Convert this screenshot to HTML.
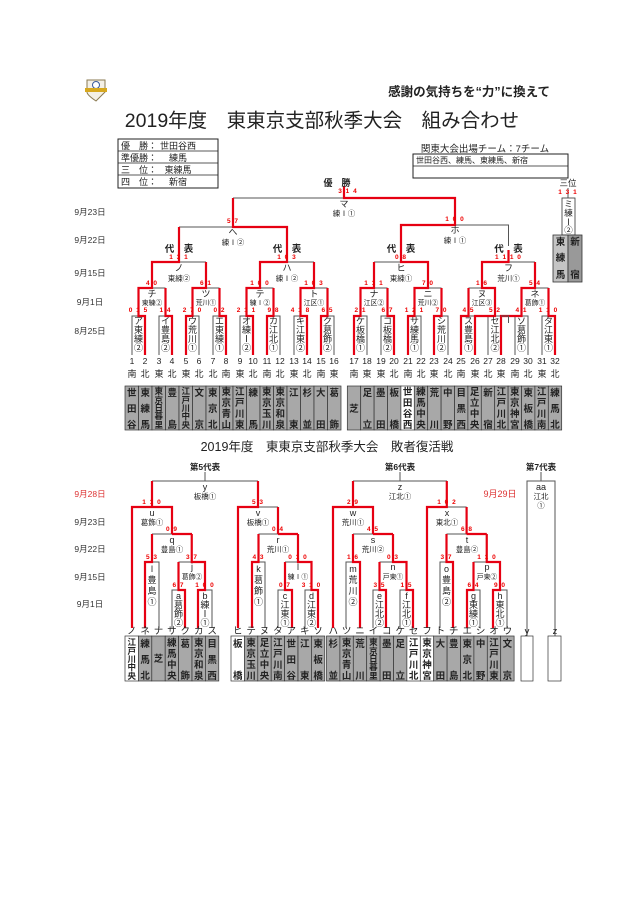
<!DOCTYPE html>
<html><head><meta charset="utf-8">
<style>
html,body{margin:0;padding:0;background:#fff}
svg{display:block}
text{font-family:"Liberation Sans","Noto Sans CJK JP",sans-serif;fill:#222}
.d{font-size:8.5px;text-anchor:middle;fill:#333}
.dr{font-size:8.5px;text-anchor:middle;fill:#d33}
.s{font-size:6.5px;font-weight:bold;fill:#e00;text-anchor:middle;letter-spacing:1px}
.n{font-size:9px;text-anchor:middle}
.m{font-size:7.5px;text-anchor:middle}
.b{font-size:9px;text-anchor:middle}
.c{font-size:9.5px;text-anchor:middle;font-weight:bold;fill:#111}
.g{fill:none;stroke:#555;stroke-width:1}
.r{fill:none;stroke:#e60012;stroke-width:2.2}
.cell{fill:#a8a8a8;stroke:#333;stroke-width:.7}
.w{fill:#fff;stroke:#333;stroke-width:.7}
</style></head><body>
<svg width="640" height="905" viewBox="0 0 640 905" xmlns="http://www.w3.org/2000/svg">
<!-- logo -->
<path d="M87 80 L105 80 L105 92 Q96 101 96 101 Q87 95 87 92 Z" fill="#f4f0e6" stroke="#8a7a50" stroke-width="1"/>
<circle cx="96" cy="85" r="3.5" fill="#fff" stroke="#3a5a9a" stroke-width="1"/>
<rect x="85" y="88" width="22" height="4" fill="#d7a81e"/>
<text x="550" y="96" style="font-size:12.5px;font-weight:bold;text-anchor:end">感謝の気持ちを“力”に換えて</text>
<text x="322" y="127" style="font-size:19.5px;text-anchor:middle">2019年度　東東京支部秋季大会　組み合わせ</text>
<!-- result box -->
<rect x="118" y="139" width="100" height="49" fill="none" stroke="#222" stroke-width="1"/>
<line x1="118" y1="151" x2="218" y2="151" stroke="#222" stroke-width=".7"/>
<line x1="118" y1="163" x2="218" y2="163" stroke="#222" stroke-width=".7"/>
<line x1="118" y1="175" x2="218" y2="175" stroke="#222" stroke-width=".7"/>
<g style="font-size:9px">
<text x="121" y="149">優　勝：</text><text x="178" y="149" text-anchor="middle">世田谷西</text>
<text x="121" y="161">準優勝：</text><text x="178" y="161" text-anchor="middle">練馬</text>
<text x="121" y="173">三　位：</text><text x="178" y="173" text-anchor="middle">東練馬</text>
<text x="121" y="185">四　位：</text><text x="178" y="185" text-anchor="middle">新宿</text>
</g>
<text x="485" y="152" style="font-size:9.5px;text-anchor:middle">関東大会出場チーム：7チーム</text>
<rect x="413" y="154" width="155" height="24" fill="none" stroke="#222" stroke-width="1"/>
<line x1="413" y1="166" x2="568" y2="166" stroke="#222" stroke-width=".7"/>
<text x="416" y="163" style="font-size:8px">世田谷西、練馬、東練馬、新宿</text>

<!-- dates upper -->
<text class="d" x="90" y="215">9月23日</text>
<text class="d" x="90" y="243">9月22日</text>
<text class="d" x="90" y="276">9月15日</text>
<text class="d" x="90" y="305">9月1日</text>
<text class="d" x="90" y="334">8月25日</text>

<!-- upper skeleton gray -->
<g class="g">
<path d="M132 355V316H145V355M159 355V316H172V355M186 355V316H199V355M213 355V316H226V355M240 355V316H253V355M267 355V316H280V355M294 355V316H307V355M321 355V316H334V355"/>
<path d="M354 355V316H367V355M381 355V316H394V355M408 355V316H421V355M434 355V316H448V355M461 355V316H475V355M488 355V316H501V355M515 355V316H528V355M542 355V316H555V355"/>
<path d="M138.5 288H165.5M192.5 288H219.5M246.5 288H273.5M300.5 288H327.5M360.5 288H387.5M414.5 288H441.5M468.5 288H495M521.5 288H548.5"/>
<path d="M152 262H206M260 262H314M374 262H428M482 262H535"/>
<path d="M179 227H287M401 225H508.5V246"/>
<path d="M233 198H455"/>
</g>
<!-- upper red -->
<g class="r">
<path d="M145 355V316H138.5V288H152V262H179V227"/>
<path d="M172 355V316H165.5V288"/>
<path d="M186 355V316H192.5V288H206V262"/>
<path d="M226 355V316H219.5V288"/>
<path d="M253 355V316H246.5V288H260V262H287V227H233V198"/>
<path d="M267 355V316H273.5V288"/>
<path d="M307 355V316H300.5V288H314V262"/>
<path d="M321 355V316H327.5V288"/>
<path d="M354 355V316H360.5V288H374V262"/>
<path d="M394 355V316H387.5V288"/>
<path d="M408 355V316H414.5V288H428V262H401V225H455V198H344V186"/>
<path d="M434 355V316H441.5V288"/>
<path d="M461 355V316H468.5V288"/>
<path d="M475 355V316H495V288H482V262H508.5V250"/>
<path d="M501 355V316H521.5V288H535V262"/>
<path d="M555 355V316H548.5V288"/>
</g>
<path d="M501 316H508.5V323" class="g"/>
<!-- upper labels -->
<text x="337" y="186" style="font-size:9px;font-weight:bold;text-anchor:middle">優　勝</text>
<text class="s" x="348" y="193">3 1 4</text>
<text class="n" x="344" y="207">マ</text><text class="m" x="344" y="216">練Ⅰ①</text>
<text class="s" x="233" y="223">5 7</text><text class="s" x="455" y="221">1 0 0</text>
<text class="n" x="233" y="235">へ</text><text class="m" x="233" y="245">練Ⅰ②</text>
<text class="n" x="455" y="233">ホ</text><text class="m" x="455" y="243">練Ⅰ①</text>
<g style="font-size:9.5px;font-weight:bold;text-anchor:middle">
<text x="179" y="252">代　表</text><text x="287" y="252">代　表</text><text x="401" y="252">代　表</text><text x="508.5" y="252">代　表</text>
</g>
<text class="s" x="179" y="259">1 3 1</text><text class="s" x="287" y="259">1 0 3</text><text class="s" x="401" y="259">0 8</text><text class="s" x="508.5" y="259">1 1 1 0</text>
<text class="n" x="179" y="271">ノ</text><text class="m" x="179" y="281">東練②</text>
<text class="n" x="287" y="271">ハ</text><text class="m" x="287" y="281">練Ⅰ②</text>
<text class="n" x="401" y="271">ヒ</text><text class="m" x="401" y="281">東練①</text>
<text class="n" x="508.5" y="271">フ</text><text class="m" x="508.5" y="281">荒川①</text>
<g>
<text class="s" x="152" y="285">4 0</text><text class="s" x="206" y="285">6 1</text><text class="s" x="260" y="285">1 0 0</text><text class="s" x="314" y="285">1 0 3</text>
<text class="s" x="374" y="285">1 1 1</text><text class="s" x="428" y="285">7 0</text><text class="s" x="482" y="285">1 6</text><text class="s" x="535" y="285">5 4</text>
</g>
<g style="font-size:6.8px;text-anchor:middle">
<text x="152" y="297" class="n">チ</text><text x="152" y="305">東練②</text>
<text x="206" y="297" class="n">ツ</text><text x="206" y="305">荒川①</text>
<text x="260" y="297" class="n">テ</text><text x="260" y="305">練Ⅰ②</text>
<text x="314" y="297" class="n">ト</text><text x="314" y="305">江区①</text>
<text x="374" y="297" class="n">ナ</text><text x="374" y="305">江区②</text>
<text x="428" y="297" class="n">ニ</text><text x="428" y="305">荒川②</text>
<text x="482" y="297" class="n">ヌ</text><text x="482" y="305">江区③</text>
<text x="535" y="297" class="n">ネ</text><text x="535" y="305">葛飾①</text>
</g>
<g>
<text class="s" x="138.5" y="312">0 1 5</text><text class="s" x="165.5" y="312">1 4</text><text class="s" x="192.5" y="312">2 7 0</text><text class="s" x="219.5" y="312">0 2</text>
<text class="s" x="246.5" y="312">2 1 1</text><text class="s" x="273.5" y="312">9 8</text><text class="s" x="300.5" y="312">4 1 8</text><text class="s" x="327.5" y="312">6 5</text>
<text class="s" x="360.5" y="312">2 1</text><text class="s" x="387.5" y="312">6 7</text><text class="s" x="414.5" y="312">1 2 1</text><text class="s" x="441.5" y="312">7 0</text>
<text class="s" x="468.5" y="312">4 5</text><text class="s" x="495" y="312">5 2</text><text class="s" x="521.5" y="312">4 1</text><text class="s" x="548.5" y="312">1 1 0</text>
</g>
<!-- round1 box labels -->
<g class="b">
<text x="138.5" y="324">ア</text><text x="138.5" y="333">東</text><text x="138.5" y="342">練</text><text x="138.5" y="351">②</text>
<text x="165.5" y="324">イ</text><text x="165.5" y="333">豊</text><text x="165.5" y="342">島</text><text x="165.5" y="351">②</text>
<text x="192.5" y="324">ウ</text><text x="192.5" y="333">荒</text><text x="192.5" y="342">川</text><text x="192.5" y="351">①</text>
<text x="219.5" y="324">エ</text><text x="219.5" y="333">東</text><text x="219.5" y="342">練</text><text x="219.5" y="351">①</text>
<text x="246.5" y="324">オ</text><text x="246.5" y="333">練</text><text x="246.5" y="342">Ⅰ</text><text x="246.5" y="351">②</text>
<text x="273.5" y="324">カ</text><text x="273.5" y="333">江</text><text x="273.5" y="342">北</text><text x="273.5" y="351">①</text>
<text x="300.5" y="324">キ</text><text x="300.5" y="333">江</text><text x="300.5" y="342">東</text><text x="300.5" y="351">②</text>
<text x="327.5" y="324">ク</text><text x="327.5" y="333">葛</text><text x="327.5" y="342">飾</text><text x="327.5" y="351">②</text>
<text x="360.5" y="324">ケ</text><text x="360.5" y="333">板</text><text x="360.5" y="342">橋</text><text x="360.5" y="351">①</text>
<text x="387.5" y="324">コ</text><text x="387.5" y="333">板</text><text x="387.5" y="342">橋</text><text x="387.5" y="351">②</text>
<text x="414.5" y="324">サ</text><text x="414.5" y="333">練</text><text x="414.5" y="342">馬</text><text x="414.5" y="351">①</text>
<text x="441.5" y="324">シ</text><text x="441.5" y="333">荒</text><text x="441.5" y="342">川</text><text x="441.5" y="351">②</text>
<text x="468.5" y="324">ス</text><text x="468.5" y="333">豊</text><text x="468.5" y="342">島</text><text x="468.5" y="351">①</text>
<text x="495" y="324">セ</text><text x="495" y="333">江</text><text x="495" y="342">北</text><text x="495" y="351">②</text>
<text x="521.5" y="324">ソ</text><text x="521.5" y="333">葛</text><text x="521.5" y="342">飾</text><text x="521.5" y="351">①</text>
<text x="548.5" y="324">タ</text><text x="548.5" y="333">江</text><text x="548.5" y="342">東</text><text x="548.5" y="351">①</text>
</g>
<!-- slot numbers -->
<g class="b" style="font-size:8.5px">
<text x="132" y="364">1</text><text x="145" y="364">2</text><text x="159" y="364">3</text><text x="172" y="364">4</text><text x="186" y="364">5</text><text x="199" y="364">6</text><text x="213" y="364">7</text><text x="226" y="364">8</text><text x="240" y="364">9</text><text x="253" y="364">10</text><text x="267" y="364">11</text><text x="280" y="364">12</text><text x="294" y="364">13</text><text x="307" y="364">14</text><text x="321" y="364">15</text><text x="334" y="364">16</text>
<text x="354" y="364">17</text><text x="367" y="364">18</text><text x="381" y="364">19</text><text x="394" y="364">20</text><text x="408" y="364">21</text><text x="421" y="364">22</text><text x="434" y="364">23</text><text x="448" y="364">24</text><text x="461" y="364">25</text><text x="475" y="364">26</text><text x="488" y="364">27</text><text x="501" y="364">28</text><text x="515" y="364">29</text><text x="528" y="364">30</text><text x="542" y="364">31</text><text x="555" y="364">32</text>
</g>
<g class="b">
<text x="132" y="377">南</text><text x="145" y="377">北</text><text x="159" y="377">東</text><text x="172" y="377">北</text><text x="186" y="377">東</text><text x="199" y="377">北</text><text x="213" y="377">北</text><text x="226" y="377">南</text><text x="240" y="377">東</text><text x="253" y="377">北</text><text x="267" y="377">南</text><text x="280" y="377">北</text><text x="294" y="377">東</text><text x="307" y="377">北</text><text x="321" y="377">南</text><text x="334" y="377">東</text>
<text x="354" y="377">南</text><text x="367" y="377">東</text><text x="381" y="377">東</text><text x="394" y="377">北</text><text x="408" y="377">南</text><text x="421" y="377">北</text><text x="434" y="377">東</text><text x="448" y="377">北</text><text x="461" y="377">南</text><text x="475" y="377">東</text><text x="488" y="377">北</text><text x="501" y="377">東</text><text x="515" y="377">南</text><text x="528" y="377">北</text><text x="542" y="377">東</text><text x="555" y="377">北</text>
</g>
<!-- upper cells -->
<g>
<rect class="cell" x="125" y="386" width="13.5" height="44"/><rect class="cell" x="138.5" y="386" width="13.5" height="44"/><rect class="cell" x="152" y="386" width="13.5" height="44"/><rect class="cell" x="165.5" y="386" width="13.5" height="44"/><rect class="cell" x="179" y="386" width="13.5" height="44"/><rect class="cell" x="192.5" y="386" width="13.5" height="44"/><rect class="cell" x="206" y="386" width="13.5" height="44"/><rect class="cell" x="219.5" y="386" width="13.5" height="44"/><rect class="cell" x="233" y="386" width="13.5" height="44"/><rect class="cell" x="246.5" y="386" width="13.5" height="44"/><rect class="cell" x="260" y="386" width="13.5" height="44"/><rect class="cell" x="273.5" y="386" width="13.5" height="44"/><rect class="cell" x="287" y="386" width="13.5" height="44"/><rect class="cell" x="300.5" y="386" width="13.5" height="44"/><rect class="cell" x="314" y="386" width="13.5" height="44"/><rect class="cell" x="327.5" y="386" width="13.5" height="44"/>
<rect class="cell" x="347.3" y="386" width="13.4" height="44"/><rect class="cell" x="360.7" y="386" width="13.4" height="44"/><rect class="cell" x="374.1" y="386" width="13.4" height="44"/><rect class="cell" x="387.5" y="386" width="13.4" height="44"/><rect class="w" x="400.9" y="386" width="13.4" height="44"/><rect class="cell" x="414.3" y="386" width="13.4" height="44"/><rect class="cell" x="427.7" y="386" width="13.4" height="44"/><rect class="cell" x="441.1" y="386" width="13.4" height="44"/><rect class="cell" x="454.5" y="386" width="13.4" height="44"/><rect class="cell" x="467.9" y="386" width="13.4" height="44"/><rect class="cell" x="481.3" y="386" width="13.4" height="44"/><rect class="cell" x="494.7" y="386" width="13.4" height="44"/><rect class="cell" x="508.1" y="386" width="13.4" height="44"/><rect class="cell" x="521.5" y="386" width="13.4" height="44"/><rect class="cell" x="534.9" y="386" width="13.4" height="44"/><rect class="cell" x="548.3" y="386" width="13.4" height="44"/>
</g>
<g class="c">
<text x="131.8" y="396">世</text><text x="131.8" y="412">田</text><text x="131.8" y="428">谷</text>
<text x="145.3" y="396">東</text><text x="145.3" y="412">練</text><text x="145.3" y="428">馬</text>
<g style="font-size:8.5px"><text x="158.8" y="394">東</text><text x="158.8" y="403">京</text><text x="158.8" y="411">日</text><text x="158.8" y="419">暮</text><text x="158.8" y="428">里</text></g>
<text x="172.3" y="396">豊</text><text x="172.3" y="428">島</text>
<g style="font-size:8.5px"><text x="185.8" y="394">江</text><text x="185.8" y="403">戸</text><text x="185.8" y="411">川</text><text x="185.8" y="419">中</text><text x="185.8" y="428">央</text></g>
<text x="199.3" y="396">文</text><text x="199.3" y="428">京</text>
<text x="212.8" y="396">東</text><text x="212.8" y="412">京</text><text x="212.8" y="428">北</text>
<text x="226.3" y="395">東</text><text x="226.3" y="406">京</text><text x="226.3" y="417">青</text><text x="226.3" y="428">山</text>
<text x="239.8" y="395">江</text><text x="239.8" y="406">戸</text><text x="239.8" y="417">川</text><text x="239.8" y="428">東</text>
<text x="253.3" y="396">練</text><text x="253.3" y="428">馬</text>
<text x="266.8" y="395">東</text><text x="266.8" y="406">京</text><text x="266.8" y="417">玉</text><text x="266.8" y="428">川</text>
<text x="280.3" y="395">東</text><text x="280.3" y="406">京</text><text x="280.3" y="417">和</text><text x="280.3" y="428">泉</text>
<text x="293.8" y="396">江</text><text x="293.8" y="428">東</text>
<text x="307.3" y="396">杉</text><text x="307.3" y="428">並</text>
<text x="320.8" y="396">大</text><text x="320.8" y="428">田</text>
<text x="334.3" y="396">葛</text><text x="334.3" y="428">飾</text>
<text x="354" y="412">芝</text>
<text x="367.4" y="396">足</text><text x="367.4" y="428">立</text>
<text x="380.8" y="396">墨</text><text x="380.8" y="428">田</text>
<text x="394.2" y="396">板</text><text x="394.2" y="428">橋</text>
<text x="407.6" y="395">世</text><text x="407.6" y="406">田</text><text x="407.6" y="417">谷</text><text x="407.6" y="428">西</text>
<text x="421" y="395">練</text><text x="421" y="406">馬</text><text x="421" y="417">中</text><text x="421" y="428">央</text>
<text x="434.4" y="396">荒</text><text x="434.4" y="428">川</text>
<text x="447.8" y="396">中</text><text x="447.8" y="428">野</text>
<text x="461.2" y="396">目</text><text x="461.2" y="412">黒</text><text x="461.2" y="428">西</text>
<text x="474.6" y="395">足</text><text x="474.6" y="406">立</text><text x="474.6" y="417">中</text><text x="474.6" y="428">央</text>
<text x="488" y="396">新</text><text x="488" y="428">宿</text>
<text x="501.4" y="395">江</text><text x="501.4" y="406">戸</text><text x="501.4" y="417">川</text><text x="501.4" y="428">北</text>
<text x="514.8" y="395">東</text><text x="514.8" y="406">京</text><text x="514.8" y="417">神</text><text x="514.8" y="428">宮</text>
<text x="528.2" y="396">東</text><text x="528.2" y="412">板</text><text x="528.2" y="428">橋</text>
<text x="541.6" y="395">江</text><text x="541.6" y="406">戸</text><text x="541.6" y="417">川</text><text x="541.6" y="428">南</text>
<text x="555" y="396">練</text><text x="555" y="412">馬</text><text x="555" y="428">北</text>
</g>
<!-- 3rd place -->
<text x="568" y="186" style="font-size:8.5px;text-anchor:middle">三位</text>
<line x1="568" y1="188" x2="568" y2="198" stroke="#555"/>
<text class="s" x="568" y="194">1 3 1</text>
<rect x="562" y="198" width="13" height="37" fill="#fff" stroke="#333" stroke-width=".8"/>
<g class="b" style="font-size:8.5px"><text x="568.5" y="207">ミ</text><text x="568.5" y="216">練</text><text x="568.5" y="225">Ⅰ</text><text x="568.5" y="233">②</text></g>
<rect x="553" y="235" width="15" height="47" fill="#c4c4c4" stroke="#333" stroke-width=".8"/>
<rect x="568" y="235" width="14" height="47" fill="#999" stroke="#333" stroke-width=".8"/>
<g class="c"><text x="560.5" y="245">東</text><text x="560.5" y="261">練</text><text x="560.5" y="278">馬</text><text x="575" y="245">新</text><text x="575" y="278">宿</text></g>

<!-- LOWER -->
<text x="327" y="451" style="font-size:12.5px;text-anchor:middle">2019年度　東東京支部秋季大会　敗者復活戦</text>
<text class="dr" x="90" y="497">9月28日</text>
<text class="d" x="90" y="525">9月23日</text>
<text class="d" x="90" y="552">9月22日</text>
<text class="d" x="90" y="580">9月15日</text>
<text class="d" x="90" y="607">9月1日</text>
<text class="dr" x="500" y="497" style="font-size:9px">9月29日</text>
<g style="font-size:8.5px;font-weight:bold;text-anchor:middle">
<text x="205" y="470">第5代表</text><text x="400" y="470">第6代表</text><text x="541" y="470">第7代表</text>
</g>
<g class="g">
<path d="M205 472V481M400 472V481M541 472V481"/>
<path d="M152 481H258M353 481H447"/>
<path d="M527 636V481H555V636"/>
<path d="M132 507H172M152 534H192M178.5 562H205M145 628V562H159V628M172 628V590H185V628M198 628V590H212V628"/>
<path d="M238 507H278M258.5 534H298M285 562H311.5M252 628V562H265V628M278 628V590H292V628M305 628V590H318V628"/>
<path d="M333 507H373M353 534H393M379.5 562H406.5M346 628V562H360V628M373 628V590H386V628M400 628V590H413V628"/>
<path d="M427 507H466.6M446.5 534H486.75M473.5 562H500M440 628V562H453V628M467 628V590H480V628M493 628V590H507V628"/>
</g>
<g class="r">
<path d="M132 628V507H172V534M152 507V481"/>
<path d="M145 628V562H152V534M192 534H172"/>
<path d="M185 628V590H178.5V562M198 628V590H205V562H191.75V534"/>
<path d="M238 628V507H258V481M278 507V534"/>
<path d="M252 628V562H258.5V534M298 534H278"/>
<path d="M292 628V590H285V562M318 628V590H311.5V562H298V534"/>
<path d="M333 628V507H373V534M353 507V481"/>
<path d="M360 628V562H353V534M393 534H373"/>
<path d="M386 628V590H379.5V562M413 628V590H406.5V562H393V534"/>
<path d="M427 628V507H446.8V481M466.6 507V534"/>
<path d="M453 628V562H446.5V534M486.75 534H466.6"/>
<path d="M467 628V590H473.5V562M493 628V590H500V562H486.75V534"/>
</g>
<!-- lower labels -->
<g>
<text class="n" x="205" y="490">y</text><text class="m" x="205" y="499">板橋①</text>
<text class="n" x="400" y="490">z</text><text class="m" x="400" y="499">江北①</text>
<text class="n" x="541" y="490">aa</text><text class="m" x="541" y="499">江北</text><text class="m" x="541" y="508">①</text>
<text class="n" x="152" y="516">u</text><text class="m" x="152" y="525">葛飾①</text>
<text class="n" x="258" y="516">v</text><text class="m" x="258" y="525">板橋①</text>
<text class="n" x="353" y="516">w</text><text class="m" x="353" y="525">荒川①</text>
<text class="n" x="447" y="516">x</text><text class="m" x="447" y="525">東北①</text>
<text class="n" x="172" y="543">q</text><text class="m" x="172" y="552">豊島①</text>
<text class="n" x="278" y="543">r</text><text class="m" x="278" y="552">荒川①</text>
<text class="n" x="373" y="543">s</text><text class="m" x="373" y="552">荒川②</text>
<text class="n" x="467" y="543">t</text><text class="m" x="467" y="552">豊島②</text>
</g>
<g style="font-size:6.8px;text-anchor:middle">
<text class="n" x="192" y="570">j</text><text x="192" y="579">葛飾②</text>
<text class="n" x="298" y="570">l</text><text x="298" y="579">練Ⅰ①</text>
<text class="n" x="393" y="570">n</text><text x="393" y="579">戸東①</text>
<text class="n" x="487" y="570">p</text><text x="487" y="579">戸東②</text>
</g>
<g>
<text class="s" x="152" y="504">1 1 0</text><text class="s" x="258" y="504">5 3</text><text class="s" x="353" y="504">2 9</text><text class="s" x="447" y="504">1 0 2</text>
<text class="s" x="172" y="531">0 9</text><text class="s" x="278" y="531">0 4</text><text class="s" x="373" y="531">4 5</text><text class="s" x="467" y="531">6 8</text>
<text class="s" x="152" y="559">5 3</text><text class="s" x="192" y="559">3 7</text><text class="s" x="258.5" y="559">4 3</text><text class="s" x="298" y="559">0 1 0</text><text class="s" x="353" y="559">1 6</text><text class="s" x="393" y="559">0 3</text><text class="s" x="446.5" y="559">3 7</text><text class="s" x="487" y="559">1 1 0</text>
<text class="s" x="178.5" y="587">6 7</text><text class="s" x="205" y="587">1 0 0</text><text class="s" x="285" y="587">0 7</text><text class="s" x="311.5" y="587">3 1 0</text><text class="s" x="379.5" y="587">3 5</text><text class="s" x="406.5" y="587">1 5</text><text class="s" x="473.5" y="587">6 4</text><text class="s" x="500" y="587">9 0</text>
</g>
<g class="b">
<text x="152" y="572">l</text><text x="152" y="583">豊</text><text x="152" y="594">島</text><text x="152" y="605">①</text>
<text x="258.5" y="572">k</text><text x="258.5" y="583">葛</text><text x="258.5" y="594">飾</text><text x="258.5" y="605">①</text>
<text x="353" y="572">m</text><text x="353" y="583">荒</text><text x="353" y="594">川</text><text x="353" y="605">②</text>
<text x="446.5" y="572">o</text><text x="446.5" y="583">豊</text><text x="446.5" y="594">島</text><text x="446.5" y="605">②</text>
<text x="178.5" y="599">a</text><text x="178.5" y="608">葛</text><text x="178.5" y="617">飾</text><text x="178.5" y="626">②</text>
<text x="205" y="599">b</text><text x="205" y="608">練</text><text x="205" y="617">Ⅰ</text><text x="205" y="626">①</text>
<text x="285" y="599">c</text><text x="285" y="608">江</text><text x="285" y="617">東</text><text x="285" y="626">①</text>
<text x="311.5" y="599">d</text><text x="311.5" y="608">江</text><text x="311.5" y="617">東</text><text x="311.5" y="626">②</text>
<text x="379.5" y="599">e</text><text x="379.5" y="608">江</text><text x="379.5" y="617">北</text><text x="379.5" y="626">②</text>
<text x="406.5" y="599">f</text><text x="406.5" y="608">江</text><text x="406.5" y="617">北</text><text x="406.5" y="626">①</text>
<text x="473.5" y="599">g</text><text x="473.5" y="608">東</text><text x="473.5" y="617">練</text><text x="473.5" y="626">①</text>
<text x="500" y="599">h</text><text x="500" y="608">東</text><text x="500" y="617">北</text><text x="500" y="626">①</text>
</g>
<!-- lower slot letters -->
<g class="n" style="font-size:9.5px">
<text x="131.7" y="634">ノ</text><text x="145.1" y="634">ネ</text><text x="158.5" y="634">ナ</text><text x="171.9" y="634">サ</text><text x="185.3" y="634">ク</text><text x="198.7" y="634">カ</text><text x="212.1" y="634">ス</text>
<text x="237.7" y="634">ヒ</text><text x="251.1" y="634">テ</text><text x="264.5" y="634">ヌ</text><text x="277.9" y="634">タ</text><text x="291.3" y="634">ア</text><text x="304.7" y="634">キ</text><text x="318.1" y="634">ソ</text>
<text x="333.2" y="634">ハ</text><text x="346.6" y="634">ツ</text><text x="360" y="634">ニ</text><text x="373.4" y="634">イ</text><text x="386.8" y="634">コ</text><text x="400.2" y="634">ケ</text><text x="413.6" y="634">セ</text>
<text x="427" y="634">フ</text><text x="440.4" y="634">ト</text><text x="453.8" y="634">チ</text><text x="467.2" y="634">エ</text><text x="480.6" y="634">シ</text><text x="494" y="634">オ</text><text x="507.4" y="634">ウ</text>
<text x="527" y="634">y</text><text x="555" y="634">z</text>
</g>
<!-- lower cells -->
<g>
<rect class="w" x="125" y="636" width="13.4" height="45"/><rect class="cell" x="138.4" y="636" width="13.4" height="45"/><rect class="cell" x="151.8" y="636" width="13.4" height="45"/><rect class="cell" x="165.2" y="636" width="13.4" height="45"/><rect class="cell" x="178.6" y="636" width="13.4" height="45"/><rect class="cell" x="192" y="636" width="13.4" height="45"/><rect class="cell" x="205.4" y="636" width="13.4" height="45"/>
<rect class="w" x="231" y="636" width="13.4" height="45"/><rect class="cell" x="244.4" y="636" width="13.4" height="45"/><rect class="cell" x="257.8" y="636" width="13.4" height="45"/><rect class="cell" x="271.2" y="636" width="13.4" height="45"/><rect class="cell" x="284.6" y="636" width="13.4" height="45"/><rect class="cell" x="298" y="636" width="13.4" height="45"/><rect class="cell" x="311.4" y="636" width="13.4" height="45"/>
<rect class="cell" x="326.5" y="636" width="13.4" height="45"/><rect class="cell" x="339.9" y="636" width="13.4" height="45"/><rect class="cell" x="353.3" y="636" width="13.4" height="45"/><rect class="cell" x="366.7" y="636" width="13.4" height="45"/><rect class="cell" x="380.1" y="636" width="13.4" height="45"/><rect class="cell" x="393.5" y="636" width="13.4" height="45"/><rect class="w" x="406.9" y="636" width="13.4" height="45"/>
<rect class="w" x="420.3" y="636" width="13.4" height="45"/><rect class="cell" x="433.7" y="636" width="13.4" height="45"/><rect class="cell" x="447.1" y="636" width="13.4" height="45"/><rect class="cell" x="460.5" y="636" width="13.4" height="45"/><rect class="cell" x="473.9" y="636" width="13.4" height="45"/><rect class="cell" x="487.3" y="636" width="13.4" height="45"/><rect class="cell" x="500.7" y="636" width="13.4" height="45"/>
<rect class="w" x="521" y="636" width="12" height="45"/><rect class="w" x="548" y="636" width="13" height="45"/>
</g>
<g class="c">
<g style="font-size:8.5px"><text x="131.7" y="645">江</text><text x="131.7" y="654">戸</text><text x="131.7" y="662">川</text><text x="131.7" y="670">中</text><text x="131.7" y="679">央</text></g>
<text x="145.1" y="647">練</text><text x="145.1" y="663">馬</text><text x="145.1" y="679">北</text>
<text x="158.5" y="662">芝</text>
<text x="171.9" y="646">練</text><text x="171.9" y="657">馬</text><text x="171.9" y="668">中</text><text x="171.9" y="679">央</text>
<text x="185.3" y="647">葛</text><text x="185.3" y="679">飾</text>
<text x="198.7" y="646">東</text><text x="198.7" y="657">京</text><text x="198.7" y="668">和</text><text x="198.7" y="679">泉</text>
<text x="212.1" y="647">目</text><text x="212.1" y="663">黒</text><text x="212.1" y="679">西</text>
<text x="237.7" y="647">板</text><text x="237.7" y="679">橋</text>
<text x="251.1" y="646">東</text><text x="251.1" y="657">京</text><text x="251.1" y="668">玉</text><text x="251.1" y="679">川</text>
<text x="264.5" y="646">足</text><text x="264.5" y="657">立</text><text x="264.5" y="668">中</text><text x="264.5" y="679">央</text>
<text x="277.9" y="646">江</text><text x="277.9" y="657">戸</text><text x="277.9" y="668">川</text><text x="277.9" y="679">南</text>
<text x="291.3" y="647">世</text><text x="291.3" y="663">田</text><text x="291.3" y="679">谷</text>
<text x="304.7" y="647">江</text><text x="304.7" y="679">東</text>
<text x="318.1" y="647">東</text><text x="318.1" y="663">板</text><text x="318.1" y="679">橋</text>
<text x="333.2" y="647">杉</text><text x="333.2" y="679">並</text>
<text x="346.6" y="646">東</text><text x="346.6" y="657">京</text><text x="346.6" y="668">青</text><text x="346.6" y="679">山</text>
<text x="360" y="647">荒</text><text x="360" y="679">川</text>
<g style="font-size:8.5px"><text x="373.4" y="645">東</text><text x="373.4" y="654">京</text><text x="373.4" y="662">日</text><text x="373.4" y="670">暮</text><text x="373.4" y="679">里</text></g>
<text x="386.8" y="647">墨</text><text x="386.8" y="679">田</text>
<text x="400.2" y="647">足</text><text x="400.2" y="679">立</text>
<text x="413.6" y="646">江</text><text x="413.6" y="657">戸</text><text x="413.6" y="668">川</text><text x="413.6" y="679">北</text>
<text x="427" y="646">東</text><text x="427" y="657">京</text><text x="427" y="668">神</text><text x="427" y="679">宮</text>
<text x="440.4" y="647">大</text><text x="440.4" y="679">田</text>
<text x="453.8" y="647">豊</text><text x="453.8" y="679">島</text>
<text x="467.2" y="647">東</text><text x="467.2" y="663">京</text><text x="467.2" y="679">北</text>
<text x="480.6" y="647">中</text><text x="480.6" y="679">野</text>
<text x="494" y="646">江</text><text x="494" y="657">戸</text><text x="494" y="668">川</text><text x="494" y="679">東</text>
<text x="507.4" y="647">文</text><text x="507.4" y="679">京</text>
</g>
</svg>
</body></html>
